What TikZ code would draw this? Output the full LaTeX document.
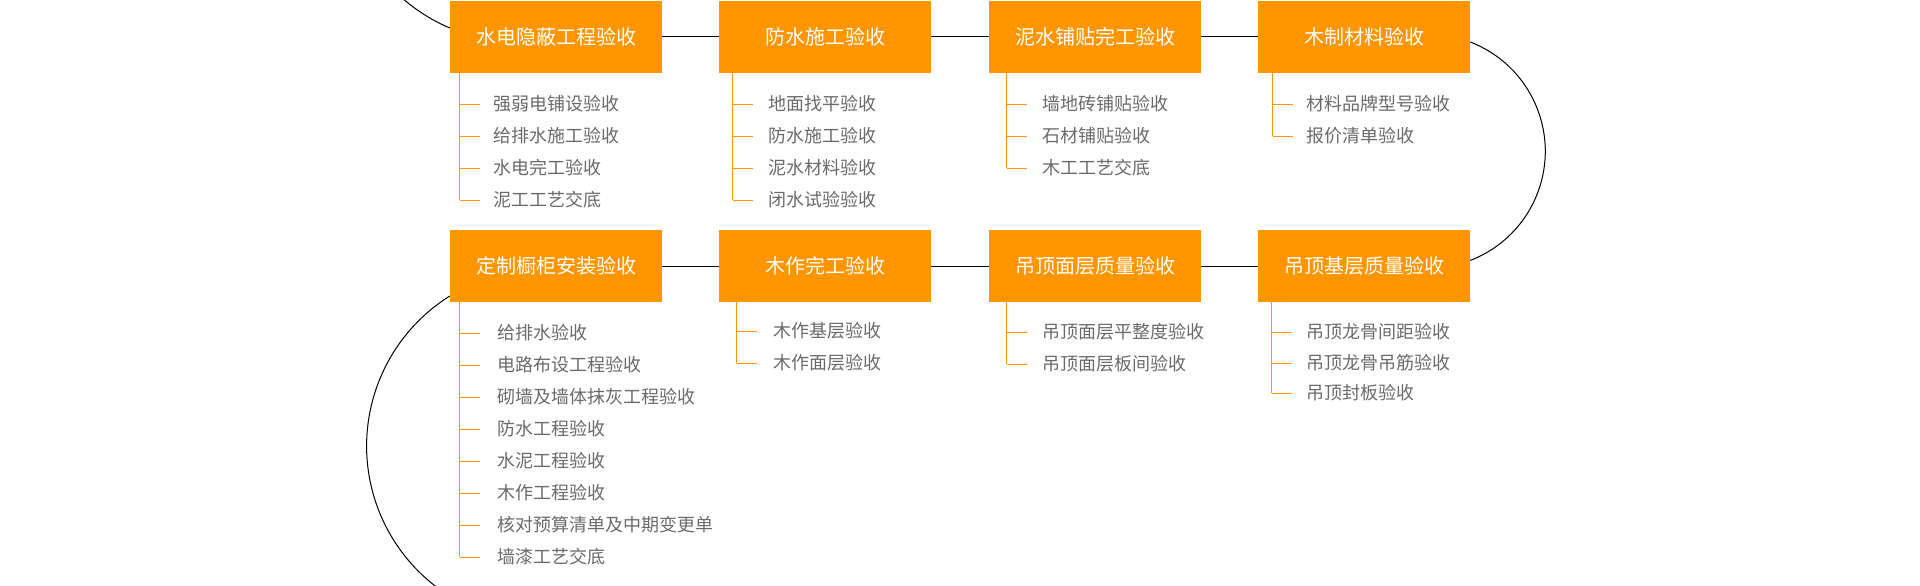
\documentclass[tikz,border=0pt]{standalone}
\usepackage{fontspec}
\setmainfont{Noto Sans CJK SC}
\definecolor{stageorange}{HTML}{FF9600}
\definecolor{itemgray}{HTML}{6A6A6A}

\begin{document}
\begin{tikzpicture}[x=1pt,y=-1pt,
    stage/.style={fill=stageorange, text=white, minimum width=212pt, minimum height=72pt, inner sep=0pt, font=\fontsize{20}{24}\selectfont},
    item/.style={anchor=west, inner sep=0pt, text=itemgray, font=\fontsize{18}{22}\selectfont},
    link/.style={line width=1pt, black},
    tick/.style={line width=1pt, stageorange}]

    \useasboundingbox (0,0) rectangle (1920,586);
    \clip (0,0) rectangle (1920,586);

    % stages
    \node[stage] (b1) at (556,37) {水电隐蔽工程验收};
    \node[stage] (b2) at (825,37) {防水施工验收};
    \node[stage] (b3) at (1095,37) {泥水铺贴完工验收};
    \node[stage] (b4) at (1364,37) {木制材料验收};
    \node[stage] (b5) at (556,266) {定制橱柜安装验收};
    \node[stage] (b6) at (825,266) {木作完工验收};
    \node[stage] (b7) at (1095,266) {吊顶面层质量验收};
    \node[stage] (b8) at (1364,266) {吊顶基层质量验收};

    \draw[link] (b1) -- (b2);
    \draw[link] (b2) -- (b3);
    \draw[link] (b3) -- (b4);
    \draw[link] (b5) -- (b6);
    \draw[link] (b6) -- (b7);
    \draw[link] (b7) -- (b8);
    \draw[link] (b4.east) ++(0,5) arc[start angle=-69, end angle=69, radius=117];
    \draw[link] (b1.west) ++(0,-9) arc[start angle=113, end angle=140, radius=177];
    \draw[link] (b5.west) ++(0,30) arc[start angle=238, end angle=125, radius=177];

    % checks
    \foreach \y/\t [count=\i] in {104/强弱电铺设验收,136/给排水施工验收,168/水电完工验收,200/泥工工艺交底}
      \node[item] (b1s\i) at (493,\y) {\t};
    \foreach \y/\t [count=\i] in {104/地面找平验收,136/防水施工验收,168/泥水材料验收,200/闭水试验验收}
      \node[item] (b2s\i) at (768,\y) {\t};
    \foreach \y/\t [count=\i] in {104/墙地砖铺贴验收,136/石材铺贴验收,168/木工工艺交底}
      \node[item] (b3s\i) at (1042,\y) {\t};
    \foreach \y/\t [count=\i] in {104/材料品牌型号验收,136/报价清单验收}
      \node[item] (b4s\i) at (1306,\y) {\t};
    \foreach \y/\t [count=\i] in {333/给排水验收,365/电路布设工程验收,397/砌墙及墙体抹灰工程验收,429/防水工程验收,461/水泥工程验收,493/木作工程验收,525/核对预算清单及中期变更单,557/墙漆工艺交底}
      \node[item] (b5s\i) at (497,\y) {\t};
    \foreach \y/\t [count=\i] in {331/木作基层验收,363/木作面层验收}
      \node[item] (b6s\i) at (773,\y) {\t};
    \foreach \y/\t [count=\i] in {332/吊顶面层平整度验收,364/吊顶面层板间验收}
      \node[item] (b7s\i) at (1042,\y) {\t};
    \foreach \y/\t [count=\i] in {332/吊顶龙骨间距验收,363/吊顶龙骨吊筋验收,393/吊顶封板验收}
      \node[item] (b8s\i) at (1306,\y) {\t};

    % orange ticks
    \foreach \b/\dx/\n in {b1/10/4,b2/14/4,b3/18/3,b4/15/2,b5/10/8,b6/18/2,b7/18/2,b8/14/3} {
      \coordinate (\b l) at ([xshift=\dx pt]\b.south west);
      \draw[tick] (\b l) -- (\b l |- \b s\n.west);
      \foreach \i in {1,...,\n}
        \draw[tick] (\b l |- \b s\i.west) -- ++(20,0);
    }
\end{tikzpicture}
\end{document}
